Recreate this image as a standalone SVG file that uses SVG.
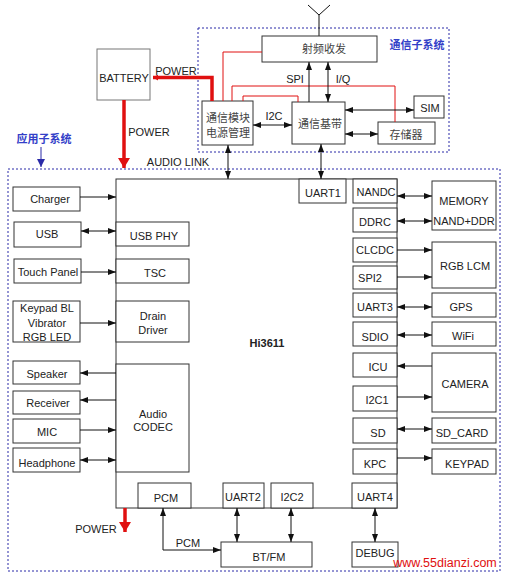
<svg xmlns="http://www.w3.org/2000/svg" width="505" height="575" viewBox="0 0 505 575">
<style>
text{font-family:"Liberation Sans",Arial,sans-serif;font-size:11px;fill:#222;text-anchor:middle}
.cn{font-family:"Noto Sans CJK SC","Liberation Sans",sans-serif;font-size:11px;fill:#444}
.blue{font-family:"Noto Sans CJK SC",sans-serif;font-size:11px;fill:#3340c8;font-weight:bold}
.b{fill:#fff;stroke:#333;stroke-width:1}
.bg{fill:#fff;stroke:#777;stroke-width:1}
.dash{fill:none;stroke:#2a2aa8;stroke-width:1;stroke-dasharray:2,2}
.ln{fill:none;stroke:#111;stroke-width:1}
.red{fill:none;stroke:#e01010;stroke-width:1}
.thick{fill:none;stroke:#e01010;stroke-width:3.5}
</style>
<defs>
<marker id="a" markerWidth="8" markerHeight="6" refX="8" refY="3" orient="auto-start-reverse" markerUnits="userSpaceOnUse"><path d="M0,0 L8,3 L0,6 Z" fill="#111"/></marker>
<marker id="ar" markerWidth="10" markerHeight="12" refX="10" refY="6" orient="auto" markerUnits="userSpaceOnUse"><path d="M0,0 L10,6 L0,12 Z" fill="#e01010"/></marker>
<marker id="ars" markerWidth="5" markerHeight="6" refX="5" refY="3" orient="auto-start-reverse" markerUnits="userSpaceOnUse"><path d="M0,0 L5,3 L0,6 Z" fill="#e01010"/></marker>
<marker id="ab" markerWidth="8" markerHeight="8" refX="8" refY="4" orient="auto" markerUnits="userSpaceOnUse"><path d="M0,0 L8,4 L0,8 Z" fill="#2a2aa8"/></marker>
</defs>

<!-- subsystem frames -->
<rect class="dash" x="198" y="28" width="251" height="124"/>
<rect class="dash" x="8" y="169" width="492" height="402"/>
<text class="blue" x="417" y="49">通信子系统</text>
<text class="blue" x="44" y="143">应用子系统</text>

<!-- antenna -->
<g id="antenna"><path class="ln" d="M308,5 L319,15 L330,5 M319,15 V36" stroke="#555"/></g>

<!-- comm subsystem nodes -->
<g id="battery"><rect class="bg" x="97" y="49" width="53" height="51"/><text x="124" y="82">BATTERY</text></g>
<g id="rf"><rect class="b" x="262" y="36" width="115" height="26"/><text class="cn" x="324" y="53">射频收发</text></g>
<g id="pm"><rect class="b" x="202" y="101" width="51" height="44"/><text class="cn" x="228" y="122">通信模块</text><text class="cn" x="228" y="137">电源管理</text></g>
<g id="bb"><rect class="b" x="292" y="102" width="53" height="42"/><text class="cn" x="320" y="128">通信基带</text></g>
<g id="sim"><rect class="b" x="414" y="96" width="30" height="22"/><text x="430" y="112">SIM</text></g>
<g id="mem2"><rect class="b" x="378" y="122" width="57" height="22"/><text class="cn" x="406" y="139">存储器</text></g>

<!-- main chip -->
<g id="hi3611">
<rect class="b" x="116" y="179" width="281" height="329" stroke="#444"/>
<text x="267" y="347" font-weight="bold">Hi3611</text>
</g>
<g id="uart1"><rect class="b" x="299" y="179" width="47" height="24"/><text x="323" y="197">UART1</text></g>
<g id="nandc"><rect class="b" x="353" y="179" width="44" height="24"/><text x="376" y="196">NANDC</text></g>
<g id="ddrc"><rect class="b" x="353" y="208" width="44" height="24"/><text x="375" y="226">DDRC</text></g>
<g id="clcdc"><rect class="b" x="353" y="238" width="44" height="24"/><text x="375" y="254">CLCDC</text></g>
<g id="spi2"><rect class="b" x="353" y="266" width="44" height="23"/><text x="370" y="282">SPI2</text></g>
<g id="uart3"><rect class="b" x="353" y="293" width="44" height="24"/><text x="375" y="311">UART3</text></g>
<g id="sdio"><rect class="b" x="353" y="322" width="44" height="24"/><text x="375" y="341">SDIO</text></g>
<g id="icu"><rect class="b" x="353" y="353" width="44" height="24"/><text x="378" y="371">ICU</text></g>
<g id="i2c1"><rect class="b" x="353" y="386" width="44" height="25"/><text x="377" y="404">I2C1</text></g>
<g id="sd"><rect class="b" x="353" y="418" width="44" height="25"/><text x="378" y="437">SD</text></g>
<g id="kpc"><rect class="b" x="353" y="449" width="44" height="25"/><text x="375" y="468">KPC</text></g>
<g id="uart4"><rect class="b" x="352" y="483" width="45" height="25"/><text x="375" y="501">UART4</text></g>
<g id="usbphy"><rect class="b" x="116" y="222" width="73" height="24"/><text x="154" y="240">USB PHY</text></g>
<g id="tsc"><rect class="b" x="116" y="259" width="73" height="24"/><text x="155" y="277">TSC</text></g>
<g id="drain"><rect class="b" x="116" y="301" width="73" height="41"/><text x="153" y="320">Drain</text><text x="153" y="334">Driver</text></g>
<g id="codec"><rect class="b" x="116" y="364" width="73" height="108"/><text x="153" y="418">Audio</text><text x="153" y="431">CODEC</text></g>
<g id="pcm"><rect class="b" x="138" y="483" width="53" height="25"/><text x="166" y="502">PCM</text></g>
<g id="uart2"><rect class="b" x="223" y="483" width="41" height="25"/><text x="243" y="501">UART2</text></g>
<g id="i2c2"><rect class="b" x="271" y="483" width="42" height="25"/><text x="292" y="501">I2C2</text></g>

<!-- left peripherals -->
<g id="charger"><rect class="b" x="13" y="187" width="67" height="24"/><text x="50" y="203">Charger</text></g>
<g id="usb"><rect class="b" x="14" y="222" width="67" height="25"/><text x="47" y="238">USB</text></g>
<g id="touch"><rect class="b" x="14" y="259" width="67" height="24"/><text x="48" y="276">Touch Panel</text></g>
<g id="keypadbl"><rect class="b" x="13" y="301" width="67" height="41"/><text x="47" y="312">Keypad BL</text><text x="47" y="327">Vibrator</text><text x="47" y="341">RGB LED</text></g>
<g id="speaker"><rect class="b" x="13" y="361" width="67" height="23"/><text x="47" y="378">Speaker</text></g>
<g id="receiver"><rect class="b" x="13" y="391" width="67" height="23"/><text x="48" y="407">Receiver</text></g>
<g id="mic"><rect class="b" x="13" y="419" width="67" height="24"/><text x="47" y="436">MIC</text></g>
<g id="headphone"><rect class="b" x="13" y="448" width="67" height="24"/><text x="47" y="467">Headphone</text></g>

<!-- right peripherals -->
<g id="memory"><rect class="b" x="432" y="181" width="64" height="49"/><text x="464" y="205">MEMORY</text><text x="464" y="225">NAND+DDR</text></g>
<g id="lcm"><rect class="b" x="432" y="242" width="64" height="46"/><text x="465" y="270">RGB LCM</text></g>
<g id="gps"><rect class="b" x="432" y="293" width="64" height="24"/><text x="461" y="311">GPS</text></g>
<g id="wifi"><rect class="b" x="432" y="322" width="64" height="24"/><text x="463" y="340">WiFi</text></g>
<g id="camera"><rect class="b" x="432" y="353" width="64" height="59"/><text x="465" y="388">CAMERA</text></g>
<g id="sdcard"><rect class="b" x="432" y="418" width="64" height="25"/><text x="462" y="437">SD_CARD</text></g>
<g id="keypad"><rect class="b" x="432" y="449" width="64" height="25"/><text x="467" y="468">KEYPAD</text></g>

<!-- bottom peripherals -->
<g id="btfm"><rect class="b" x="221" y="542" width="91" height="25"/><text x="269" y="561">BT/FM</text></g>
<g id="debug"><rect class="b" x="352" y="542" width="46" height="25"/><text x="375" y="557">DEBUG</text></g>

<!-- connectors -->
<g id="connectors">
<path class="thick" d="M212,101 V77.5 H153" marker-end="url(#ars)"/>
<path class="thick" d="M124,100 V168" stroke-width="4" marker-end="url(#ar)"/>
<path class="thick" d="M125,508 V532" stroke-width="3.5" marker-end="url(#ar)"/>
<path class="red" d="M262,52 H223 V101"/>
<path class="red" d="M232,101 V86 H395 V122"/>
<path class="red" d="M243,101 V96 H298 V102"/>
<path class="ln" d="M309,102 V62" marker-end="url(#a)"/>
<path class="ln" d="M328,102 V62" marker-start="url(#a)" marker-end="url(#a)"/>
<path class="ln" d="M253,125 H292" marker-start="url(#a)" marker-end="url(#a)"/>
<path class="ln" d="M345,110 H414" marker-start="url(#a)" marker-end="url(#a)"/>
<path class="ln" d="M345,134 H378" marker-start="url(#a)" marker-end="url(#a)"/>
<path class="ln" d="M228,145 V179" marker-start="url(#a)" marker-end="url(#a)"/>
<path class="ln" d="M321,144 V179" marker-start="url(#a)" marker-end="url(#a)"/>
<path d="M41,147 V167" stroke="#2a2aa8" stroke-width="1" marker-end="url(#ab)"/>
<path class="ln" d="M80,197 H116" marker-end="url(#a)"/>
<path class="ln" d="M81,231 H116" marker-start="url(#a)" marker-end="url(#a)"/>
<path class="ln" d="M81,272 H116" marker-end="url(#a)"/>
<path class="ln" d="M80,323 H116" marker-end="url(#a)"/>
<path class="ln" d="M116,373 H80" marker-end="url(#a)"/>
<path class="ln" d="M116,400 H80" marker-end="url(#a)"/>
<path class="ln" d="M80,430 H116" marker-end="url(#a)"/>
<path class="ln" d="M80,460 H116" marker-start="url(#a)" marker-end="url(#a)"/>
<path class="ln" d="M397,196 H432" marker-start="url(#a)" marker-end="url(#a)"/>
<path class="ln" d="M397,221 H432" marker-start="url(#a)" marker-end="url(#a)"/>
<path class="ln" d="M397,250 H432" marker-end="url(#a)"/>
<path class="ln" d="M397,277 H432" marker-end="url(#a)"/>
<path class="ln" d="M397,307 H432" marker-start="url(#a)" marker-end="url(#a)"/>
<path class="ln" d="M397,335 H432" marker-start="url(#a)" marker-end="url(#a)"/>
<path class="ln" d="M432,366 H397" marker-end="url(#a)"/>
<path class="ln" d="M397,397 H432" marker-end="url(#a)"/>
<path class="ln" d="M397,429 H432" marker-start="url(#a)" marker-end="url(#a)"/>
<path class="ln" d="M397,458 H432" marker-end="url(#a)"/>
<path class="ln" d="M237,508 V542" marker-start="url(#a)" marker-end="url(#a)"/>
<path class="ln" d="M291,508 V542" marker-start="url(#a)" marker-end="url(#a)"/>
<path class="ln" d="M375,508 V542" marker-start="url(#a)" marker-end="url(#a)"/>
<path class="ln" d="M221,550 H163 V508" marker-start="url(#a)" marker-end="url(#a)"/>
</g>

<!-- connector labels -->
<text x="176" y="75">POWER</text>
<text x="149" y="136">POWER</text>
<text x="178" y="166">AUDIO LINK</text>
<text x="295" y="83">SPI</text>
<text x="343" y="83">I/Q</text>
<text x="274" y="120">I2C</text>
<text x="96" y="533">POWER</text>
<text x="188" y="547">PCM</text>
<text x="445" y="567" style="font-size:12.5px;fill:#e01010">www.55dianzi.com</text>
</svg>
